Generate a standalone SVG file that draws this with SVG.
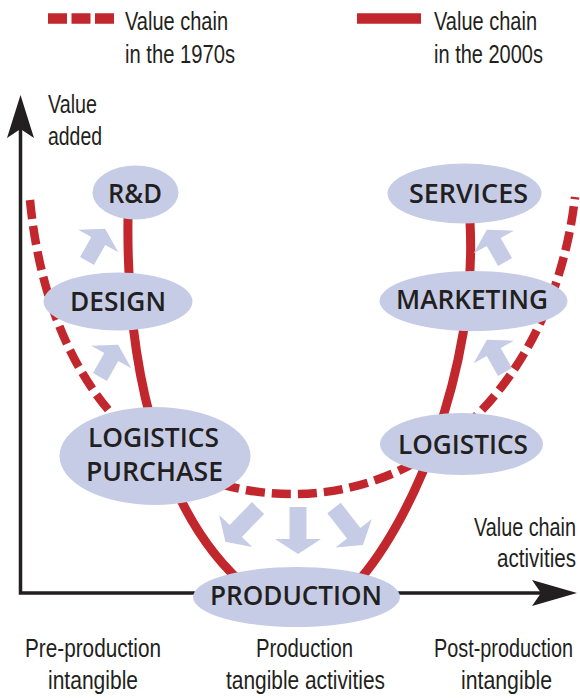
<svg xmlns="http://www.w3.org/2000/svg" xmlns:xlink="http://www.w3.org/1999/xlink" width="580" height="698" viewBox="0 0 580 698">
  <style>
    .cond { font-family: "Liberation Sans", Arial, sans-serif; font-size: 25.5px; fill: #231F20; }
    .end { text-anchor: end; }
    .lbl { font-family: "Open Sans", "Liberation Sans", sans-serif; font-weight: 600; font-size: 27px; fill: #231F20; }
    .node { fill: #C6CCE6; }
    .blk { fill: #C6CCE6; }
    .chain-new { fill: none; stroke: #C1272D; stroke-width: 9; }
    .chain-old { fill: none; stroke: #C1272D; stroke-width: 8.5; stroke-dasharray: 19 7; }
    .axis { fill: none; stroke: #231F20; stroke-width: 3.5; }
  </style>
  <defs>
    <!-- block arrows pointing along +x, origin at tail -->
    <path id="arrowLong" d="M0,-8.5 H32 V-23 L47,0 L32,23 V8.5 H0 Z"/>
    <path id="arrowShort" d="M0,-8 H23 V-23 L37,0 L23,23 V8 H0 Z"/>
  </defs>
  <rect width="580" height="698" fill="#FFFFFF"/>

  <!-- legend -->
  <g id="legend">
    <line x1="48" y1="18.5" x2="114" y2="18.5" stroke="#C1272D" stroke-width="10.5" stroke-dasharray="19 4.5"/>
    <text class="cond" x="125" y="30" textLength="103" lengthAdjust="spacingAndGlyphs">Value chain</text>
    <text class="cond" x="125" y="63" textLength="110" lengthAdjust="spacingAndGlyphs">in the 1970s</text>
    <line x1="357" y1="18.5" x2="421" y2="18.5" stroke="#C1272D" stroke-width="10.5"/>
    <text class="cond" x="434" y="30" textLength="103" lengthAdjust="spacingAndGlyphs">Value chain</text>
    <text class="cond" x="434" y="63" textLength="109" lengthAdjust="spacingAndGlyphs">in the 2000s</text>
  </g>

  <!-- axes -->
  <g id="axes">
    <polyline class="axis" points="20.5,128 20.5,593 545,593"/>
    <polygon points="20.5,95 34,138 20.5,129 7,138" fill="#231F20"/>
    <polygon points="577,593 532,606 541,593 532,580" fill="#231F20"/>
    <text class="cond" x="48" y="113" textLength="49" lengthAdjust="spacingAndGlyphs">Value</text>
    <text class="cond" x="48" y="145" textLength="54" lengthAdjust="spacingAndGlyphs">added</text>
    <g transform="translate(576,536) scale(0.77,1)">
      <text class="cond end" x="0" y="0" textLength="132.5" lengthAdjust="spacingAndGlyphs">Value chain</text>
    </g>
    <g transform="translate(576,567) scale(0.77,1)">
      <text class="cond end" x="0" y="0" textLength="102.6" lengthAdjust="spacingAndGlyphs">activities</text>
    </g>
  </g>

  <!-- value chain curves -->
  <g id="connectors">
    <path class="chain-old" d="M30,200 C45,360 130,494 293,494 C440,494 555,370 575,197"/>
    <path class="chain-new" d="M128,218 C126,380 165,520 250,590"/>
    <path class="chain-new" d="M350,590 C410,530 478,370 470,222"/>
  </g>

  <!-- shift arrows -->
  <g id="shift-arrows">
    <use xlink:href="#arrowShort" class="blk" transform="translate(87,261) rotate(-60.6)"/>
    <use xlink:href="#arrowShort" class="blk" transform="translate(100,377) rotate(-60.6)"/>
    <use xlink:href="#arrowShort" class="blk" transform="translate(505,262) rotate(-119.4)"/>
    <use xlink:href="#arrowShort" class="blk" transform="translate(505,372) rotate(-119.4)"/>
    <use xlink:href="#arrowLong" class="blk" transform="translate(258,508) rotate(134)"/>
    <use xlink:href="#arrowLong" class="blk" transform="translate(298,507) rotate(90)"/>
    <use xlink:href="#arrowLong" class="blk" transform="translate(334,508) rotate(52)"/>
  </g>

  <!-- activity nodes -->
  <g id="rd">
    <ellipse class="node" cx="135.5" cy="192.5" rx="43" ry="27"/>
    <text class="lbl" x="108" y="203" textLength="54" lengthAdjust="spacingAndGlyphs">R&amp;D</text>
  </g>
  <g id="design">
    <ellipse class="node" cx="118" cy="301.5" rx="74.5" ry="29"/>
    <text class="lbl" x="70" y="311" textLength="96" lengthAdjust="spacingAndGlyphs">DESIGN</text>
  </g>
  <g id="logistics-purchase">
    <ellipse class="node" cx="155" cy="456" rx="95.5" ry="49"/>
    <text class="lbl" x="88" y="447" textLength="131" lengthAdjust="spacingAndGlyphs">LOGISTICS</text>
    <text class="lbl" x="86" y="481" textLength="137" lengthAdjust="spacingAndGlyphs">PURCHASE</text>
  </g>
  <g id="services">
    <ellipse class="node" cx="464.5" cy="193.5" rx="77" ry="30"/>
    <text class="lbl" x="409" y="203" textLength="119" lengthAdjust="spacingAndGlyphs">SERVICES</text>
  </g>
  <g id="marketing">
    <ellipse class="node" cx="473.5" cy="301" rx="94" ry="30"/>
    <text class="lbl" x="396" y="309" textLength="152" lengthAdjust="spacingAndGlyphs">MARKETING</text>
  </g>
  <g id="logistics">
    <ellipse class="node" cx="461.5" cy="444" rx="81.5" ry="31"/>
    <text class="lbl" x="398" y="454" textLength="130" lengthAdjust="spacingAndGlyphs">LOGISTICS</text>
  </g>
  <g id="production">
    <ellipse class="node" cx="296.5" cy="597" rx="103.5" ry="30"/>
    <text class="lbl" x="210" y="605" textLength="172" lengthAdjust="spacingAndGlyphs">PRODUCTION</text>
  </g>

  <!-- stage captions -->
  <g id="captions">
    <text class="cond" x="25" y="657" textLength="136" lengthAdjust="spacingAndGlyphs">Pre-production</text>
    <text class="cond" x="48" y="689" textLength="90" lengthAdjust="spacingAndGlyphs">intangible</text>
    <text class="cond" x="256" y="657" textLength="97" lengthAdjust="spacingAndGlyphs">Production</text>
    <text class="cond" x="226" y="689" textLength="159" lengthAdjust="spacingAndGlyphs">tangible activities</text>
    <g transform="translate(573,657) scale(0.77,1)">
      <text class="cond end" x="0" y="0" textLength="180.5" lengthAdjust="spacingAndGlyphs">Post-production</text>
    </g>
    <text class="cond" x="461" y="689" textLength="91" lengthAdjust="spacingAndGlyphs">intangible</text>
  </g>
</svg>
